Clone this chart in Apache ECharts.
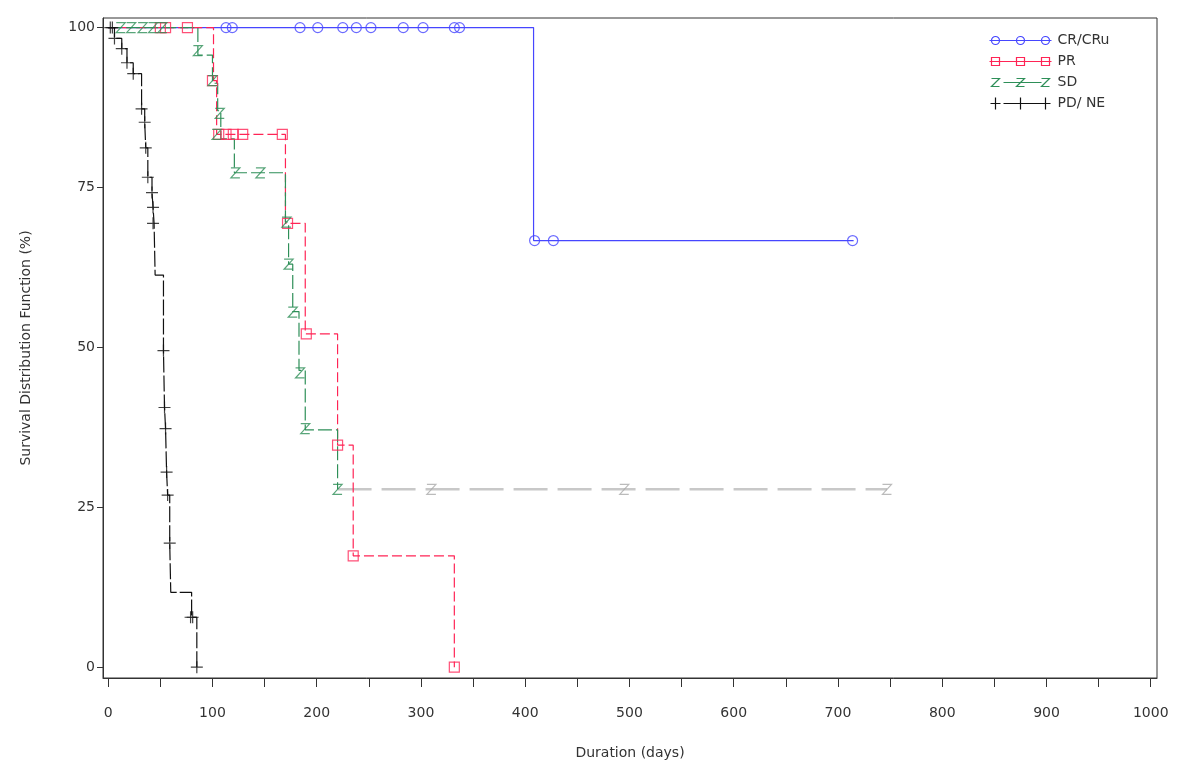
<!DOCTYPE html>
<html><head><meta charset="utf-8">
<script src="https://cdn.jsdelivr.net/npm/echarts@6/dist/echarts.min.js"></script>
<style>html,body{margin:0;padding:0;background:#fff}#c{width:1177px;height:762px}</style>
</head><body><div id="c"></div>
<script>
// ---- data (days, survival %) ----
const groupNames = ['CR/CRu', 'PR', 'SD', 'PD/ NE'];
const xTickLabels = [0, 100, 200, 300, 400, 500, 600, 700, 800, 900, 1000];
const xMinorTicks = [0, 50, 100, 150, 200, 250, 300, 350, 400, 450, 500, 550, 600, 650, 700, 750, 800, 850, 900, 950, 1000];
const yTickLabels = [0, 25, 50, 75, 100];

// CR/CRu step curve
const crTimes = [0, 408, 715];
const crSurv  = [100, 66.7, 66.7];
const crCensT = [113, 119, 184, 201, 225, 238, 252, 283, 302, 332, 337, 409, 427, 714];
const crCensS = [100, 100, 100, 100, 100, 100, 100, 100, 100, 100, 100, 66.7, 66.7, 66.7];

// PR step curve
const prTimes = [0, 101, 104, 170, 189, 220, 235, 332];
const prSurv  = [100, 91.7, 83.3, 69.4, 52.1, 34.7, 17.4, 0];
const prCensT = [50, 55, 76, 100, 106, 113, 120, 129, 167, 172, 190, 220, 235, 332];
const prCensS = [100, 100, 100, 91.7, 83.3, 83.3, 83.3, 83.3, 83.3, 69.4, 52.1, 34.7, 17.4, 0];

// SD step curve
const sdTimes = [0, 86, 100, 105, 108, 121, 170, 173, 177, 183, 189, 220];
const sdSurv  = [100, 95.7, 91.3, 87.0, 82.6, 77.3, 69.6, 63.0, 55.6, 46.4, 37.1, 27.8];
const sdCensT = [12, 22, 33, 43, 52, 86, 100, 107, 104, 122, 146, 171, 173, 177, 184, 189, 220];
const sdCensS = [100, 100, 100, 100, 100, 96.4, 91.7, 86.6, 83.3, 77.3, 77.3, 69.6, 63.0, 55.5, 46.0, 37.3, 27.8];
// SD tail (drawn faint in the original)
const sdTailTimes = [220, 747];
const sdTailSurv  = [27.8, 27.8];
const sdTailCensT = [310, 495, 747];
const sdTailCensS = [27.8, 27.8, 27.8];

// PD/NE step curve
const pdTimes = [0, 6, 13, 18, 24, 32, 35, 36, 38, 42, 43, 44, 45, 53, 54, 55, 56, 57, 59, 60, 80, 85];
const pdSurv  = [100, 98.3, 96.7, 94.5, 92.8, 87.3, 85.2, 81.2, 76.6, 74.2, 71.9, 69.4, 61.3, 49.5, 40.6, 37.3, 30.5, 26.9, 19.4, 11.7, 7.8, 0];
const pdCensT = [2, 4, 6, 13, 18, 24, 32, 35, 36, 38, 42, 43, 43, 53, 54, 55, 56, 57, 59, 79, 81, 85];
const pdCensS = [100, 100, 98.3, 96.7, 94.5, 92.8, 87.3, 85.2, 81.2, 76.6, 74.2, 71.9, 69.4, 49.5, 40.6, 37.3, 30.5, 26.9, 19.4, 7.8, 7.8, 0];

// ---- styles ----
const colors = ['#4646ff', '#ff2455', '#2e8f58', '#111111'];
const grey = '#c8c8c8';
const circ = (cx) => `M${cx-4},6 a4,4 0 1,0 8,0 a4,4 0 1,0 -8,0`;
const sq = (cx) => `M${cx-4},2 h8 v8 h-8 z`;
const zz = (cx) => `M${cx-4},2 h8 l-8,8 h8`;
const pl = (cx) => `M${cx},0 v12 M${cx-5},6 h10`;
const frameP = 'M0,0 M62,12 ';
const legendIcons = [
  'path://' + frameP + 'M0,6 H62 ' + circ(6) + ' ' + circ(31) + ' ' + circ(56),
  'path://' + frameP + 'M0,6 H62 ' + sq(6) + ' ' + sq(31) + ' ' + sq(56),
  'path://' + frameP + 'M14,6 H52 ' + zz(6) + ' ' + zz(31) + ' ' + zz(56),
  'path://' + frameP + 'M14,6 H52 ' + pl(6) + ' ' + pl(31) + ' ' + pl(56)
];
const symCircle = 'circle';
const symRect = 'path://M0,0 H10 V10 H0 Z';
const symZ = 'path://M0,0 H10 L0,10 H10';
const symPlus = 'path://M5,0 V10 M0,5 H10';

const zip = (a, b) => a.map((v, i) => [v, b[i]]);

function stepSeries(name, t, s, color, dash, width) {
  return {
    name: name, type: 'line', step: 'end', data: zip(t, s),
    symbol: 'none', silent: true, animation: false,
    lineStyle: { color: color, width: width || 1.2, type: dash || 'solid' },
    itemStyle: { color: color }, z: 2
  };
}
function censorSeries(name, t, s, color, symbol, size) {
  return {
    name: name, type: 'scatter', data: zip(t, s), symbol: symbol,
    symbolSize: size, silent: true, animation: false,
    itemStyle: { color: 'none', borderColor: color, borderWidth: 1.2 }, z: 3
  };
}

const chart = echarts.init(document.getElementById('c'), null, { renderer: 'canvas' });
chart.setOption({
  backgroundColor: '#ffffff',
  animation: false,
  textStyle: { fontFamily: 'DejaVu Sans', color: '#333' },
  grid: { left: 103, right: 20, top: 18, bottom: 84, show: true, borderColor: '#333', borderWidth: 1, containLabel: false, outerBoundsMode: 'none' },
  legend: {
    orient: 'vertical', left: 982, top: 27, itemGap: 4, itemWidth: 64, itemHeight: 12,
    textStyle: { fontSize: 14, color: '#333', fontFamily: 'DejaVu Sans' },
    selectedMode: false,
    data: groupNames.map((n, i) => ({
      name: n, icon: legendIcons[i],
      itemStyle: { color: 'none', borderColor: colors[i], borderWidth: 1.2 }
    }))
  },
  xAxis: {
    type: 'value', min: -5, max: 1006,
    name: 'Duration (days)', nameLocation: 'middle', nameGap: 68,
    nameTextStyle: { fontSize: 14, color: '#333' },
    axisLine: { show: true, onZero: false, lineStyle: { color: '#333', width: 1 } },
    axisTick: { show: true, length: 9, customValues: xMinorTicks, lineStyle: { color: '#333' } },
    axisLabel: { customValues: xTickLabels, margin: 28, fontSize: 14, color: '#333', formatter: (v) => String(v) },
    splitLine: { show: false }
  },
  yAxis: {
    type: 'value', min: -1.7, max: 101.5,
    name: 'Survival Distribution Function (%)', nameLocation: 'middle', nameGap: 70,
    nameTextStyle: { fontSize: 14, color: '#333' },
    axisLine: { show: true, onZero: false, lineStyle: { color: '#333', width: 1 } },
    axisTick: { show: true, length: 6, customValues: yTickLabels, lineStyle: { color: '#333' } },
    axisLabel: { customValues: yTickLabels, margin: 8, fontSize: 14, color: '#333' },
    splitLine: { show: false }
  },
  series: [
    stepSeries('SD tail', sdTailTimes, sdTailSurv, grey, [34, 10], 2.5),
    censorSeries('SD tail censored', sdTailCensT, sdTailCensS, '#aaaaaa', symZ, [9, 10]),
    stepSeries(groupNames[0], crTimes, crSurv, colors[0], 'solid', 1.2),
    stepSeries(groupNames[1], prTimes, prSurv, colors[1], [10, 4], 1.2),
    stepSeries(groupNames[2], sdTimes, sdSurv, colors[2], [14, 4], 1.2),
    stepSeries(groupNames[3], pdTimes, pdSurv, colors[3], [16, 3], 1.2),
    censorSeries('CR/CRu censored', crCensT, crCensS, colors[0], symCircle, 10),
    censorSeries('PR censored', prCensT, prCensS, colors[1], symRect, [10, 10]),
    censorSeries('SD censored', sdCensT, sdCensS, colors[2], symZ, [9, 10]),
    censorSeries('PD censored', pdCensT, pdCensS, colors[3], symPlus, [12, 12])
  ]
});
</script>
</body></html>
